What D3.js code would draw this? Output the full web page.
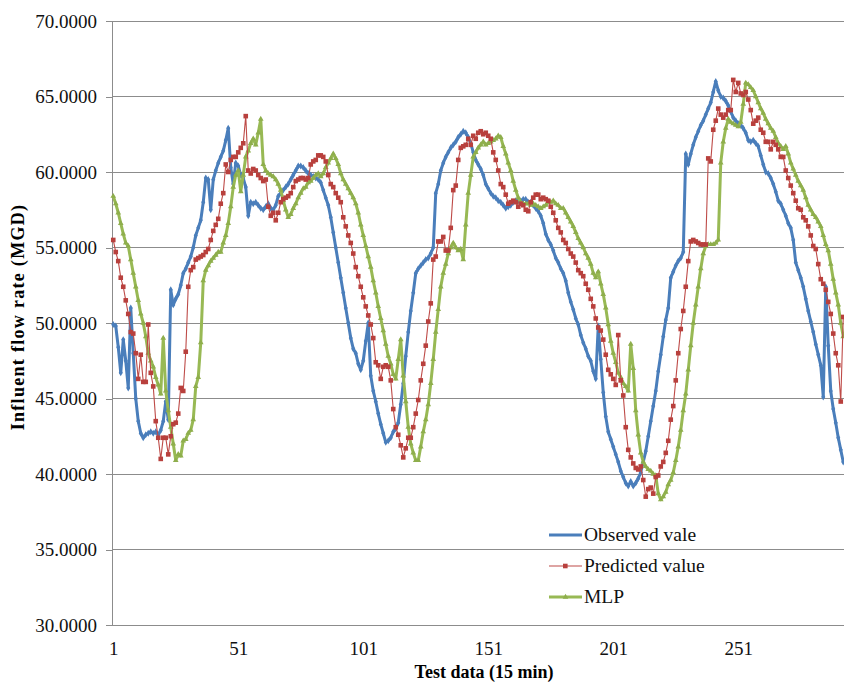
<!DOCTYPE html>
<html>
<head>
<meta charset="utf-8">
<script src="https://cdn.jsdelivr.net/npm/d3@7"></script>
<style>
  html, body { margin: 0; padding: 0; background: #ffffff; }
  svg { display: block; }
</style>
</head>
<body>
<svg id="chart" width="844" height="687"></svg>
<script>
// Influent flow rate (MGD) for each 15-minute test sample
const observed = [
  49.9, 49.8, 48.4, 46.7, 48.9, 47.5, 45.7, 51.0, 48.0, 45.0,
  43.5, 42.7, 42.4, 42.6, 42.7, 42.8, 42.7, 42.8, 42.6, 42.9,
  43.5, 44.8, 43.6, 52.2, 51.2, 51.6, 51.9, 52.5, 53.3, 53.6,
  54.0, 54.4, 55.0, 55.8, 56.3, 56.8, 58.0, 59.6, 59.5, 57.5,
  59.5, 60.1, 60.6, 61.0, 61.4, 62.1, 62.9, 60.3, 59.2, 60.6,
  60.4, 59.8, 59.6, 59.0, 57.1, 58.0, 57.9, 58.0, 57.8, 57.6,
  57.5, 57.7, 57.9, 57.6, 57.5, 57.8, 58.4, 58.6, 58.8, 59.0,
  59.2, 59.5, 59.8, 60.1, 60.4, 60.4, 60.3, 60.1, 59.9, 59.8,
  59.7, 59.6, 59.5, 59.3, 58.8, 58.3, 57.8, 57.0, 56.0, 55.0,
  54.0, 53.0, 52.0, 51.0, 50.0, 49.0, 48.3, 48.0, 47.3, 46.9,
  47.5, 48.8, 50.0, 46.5, 45.5, 44.8, 44.0, 43.3, 42.7, 42.1,
  42.2, 42.4, 42.8, 43.0, 43.4, 44.6, 46.0, 47.8, 49.4, 50.8,
  52.0, 53.3, 53.6, 53.8, 54.0, 54.2, 54.3, 54.6, 55.0, 58.6,
  59.2, 60.1, 60.6, 61.0, 61.3, 61.6, 61.8, 62.0, 62.3, 62.5,
  62.7, 62.6, 62.3, 61.9, 61.3, 60.8, 60.5, 60.2, 59.8, 59.2,
  58.9, 58.6, 58.4, 58.3, 58.1, 58.0, 57.8, 57.6, 57.7, 57.8,
  58.0, 58.1, 58.1, 58.1, 58.2, 58.2, 58.0, 58.0, 57.8, 57.6,
  57.4, 57.1, 56.6, 55.9, 55.5, 55.2, 54.8, 54.3, 54.0, 53.6,
  53.3, 52.8, 52.0, 51.4, 50.9, 50.3, 49.9, 49.2, 48.7, 48.3,
  47.8, 47.5, 46.8, 46.3, 49.8, 47.6, 45.4, 43.8, 42.8, 42.3,
  41.8, 41.3, 40.8, 40.2, 39.8, 39.4, 39.2, 39.5, 39.2, 39.4,
  39.7, 40.1, 40.8, 41.5, 42.5, 43.5, 44.5, 45.5, 46.8, 47.9,
  49.1, 50.2, 51.0, 53.0, 53.4, 53.8, 54.1, 54.3, 54.7, 61.2,
  60.5, 61.2, 61.8, 62.3, 62.7, 63.1, 63.4, 63.8, 64.2, 64.6,
  65.3, 66.0, 65.4, 65.0, 64.9, 64.7, 64.4, 64.0, 63.6, 63.4,
  63.2, 63.1, 62.9, 62.6, 62.1, 62.0, 62.1, 61.9, 61.7, 61.1,
  60.5, 60.0, 59.9, 59.6, 59.2, 58.7, 58.1, 57.9, 57.5, 57.1,
  56.6, 56.3, 55.5, 54.0, 53.5, 53.0, 52.4, 51.6, 50.8, 50.1,
  49.4, 48.6, 47.9, 47.2, 45.1, 52.4, 48.5, 45.5, 44.3, 43.4,
  42.4, 41.6, 40.8
];

const predicted = [
  55.5, 54.7, 54.1, 53.0, 52.4, 51.5, 50.6, 49.4, 49.3, 48.0,
  46.3, 47.9, 46.1, 46.1, 49.9, 46.7, 45.8, 43.5, 42.4, 41.0,
  42.4, 42.4, 41.3, 42.5, 43.3, 43.4, 44.0, 45.7, 45.5, 48.1,
  52.4, 53.5, 53.7, 54.2, 54.3, 54.4, 54.5, 54.7, 54.9, 55.5,
  56.1, 56.5, 56.9, 57.9, 58.6, 60.5, 60.0, 60.8, 61.0, 61.0,
  61.3, 61.6, 61.9, 63.7, 60.1, 59.9, 60.2, 60.1, 59.8, 59.6,
  59.4, 59.5, 57.7, 57.1, 57.3, 56.8, 57.3, 58.0, 58.2, 58.3,
  58.4, 58.6, 59.0, 59.4, 59.5, 59.6, 59.6, 59.5, 59.6, 60.5,
  60.7, 60.8, 61.1, 61.1, 61.0, 60.7, 59.8, 59.2, 59.0, 58.6,
  58.3, 58.0, 57.0, 56.4, 55.8, 55.3, 54.6, 53.7, 53.1, 52.4,
  51.7, 51.1, 50.5, 49.9, 49.0, 47.4, 47.2, 46.3, 47.1, 47.2,
  47.1, 46.2, 44.3, 43.1, 42.6, 41.9, 41.1, 41.7, 42.4, 42.4,
  43.1, 44.0, 44.9, 46.2, 47.3, 48.5, 50.1, 51.3, 54.2, 54.4,
  55.4, 55.4, 55.7, 54.8, 54.8, 56.3, 58.8, 59.1, 60.8, 61.6,
  61.7, 61.8, 62.2, 61.8, 62.4, 62.2, 62.6, 62.7, 62.5, 62.6,
  62.4, 62.2, 61.3, 60.8, 60.1, 59.2, 59.0, 58.5, 57.9, 58.0,
  58.1, 58.0, 57.7, 57.9, 57.8, 57.5, 57.4, 58.0, 58.3, 58.5,
  58.5, 58.2, 58.3, 58.2, 58.1, 57.7, 57.3, 56.8, 56.3, 56.0,
  55.5, 55.3, 54.9, 54.6, 54.4, 54.0, 53.5, 53.3, 53.1, 52.6,
  52.2, 51.6, 51.1, 50.3, 49.7, 49.5, 48.9, 47.9, 46.9, 46.6,
  46.3, 45.9, 49.2, 46.2, 45.2, 43.1, 41.6, 41.1, 40.7, 40.4,
  40.3, 40.5, 39.6, 38.5, 39.0, 39.1, 38.7, 39.8, 39.9, 40.5,
  40.8, 41.4, 42.2, 43.6, 44.5, 46.2, 48.0, 49.6, 50.8, 52.4,
  54.1, 55.4, 55.5, 55.4, 55.3, 55.2, 55.2, 55.2, 60.9, 60.7,
  62.8, 63.4, 64.2, 63.8, 63.6, 63.8, 64.1, 64.1, 66.1, 65.3,
  65.9, 65.2, 65.1, 65.3, 64.8, 64.1, 63.2, 63.4, 63.6, 62.8,
  62.6, 62.0, 62.0, 61.5, 62.0, 61.8, 61.5, 61.0, 61.0, 60.1,
  59.6, 59.1, 58.6, 58.1, 57.6, 57.5, 57.0, 56.8, 56.4, 55.8,
  55.1, 54.9, 53.9, 52.9, 52.6, 52.2, 51.4, 50.6, 49.3, 48.0,
  47.2, 44.8, 50.4
];

const mlp = [
  58.4, 57.9, 57.3, 56.6, 55.9, 55.3, 55.1, 54.2, 53.3, 52.4,
  51.5, 50.6, 50.0, 49.1, 48.0, 47.5, 47.1, 46.4, 45.9, 45.3,
  49.0, 45.5, 44.2, 43.1, 42.0, 40.9, 41.3, 41.2, 42.2, 42.3,
  42.7, 42.9, 43.6, 45.8, 46.4, 48.7, 52.8, 53.5, 53.8, 54.1,
  54.3, 54.5, 54.7, 54.7, 55.3, 55.8, 56.6, 57.7, 59.0, 59.8,
  60.1, 58.7, 59.8, 61.0, 61.4, 61.9, 62.2, 61.8, 62.6, 63.5,
  60.5, 60.1, 59.9, 59.8, 59.7, 59.5, 59.2, 58.8, 58.1, 57.5,
  57.0, 57.2, 57.6, 57.9, 58.3, 58.6, 58.9, 59.0, 59.3, 59.4,
  59.6, 59.8, 59.9, 59.7, 59.9, 60.3, 60.6, 60.9, 61.2, 60.9,
  60.5, 59.9, 59.5, 59.2, 58.9, 58.6, 58.3, 57.9, 57.3, 56.5,
  55.8, 55.1, 54.4, 53.7, 52.8, 52.0, 51.1, 50.3, 49.5, 48.6,
  47.8, 47.3, 46.6, 46.3, 47.6, 48.9, 46.5, 44.8, 43.1, 42.0,
  41.4, 40.9, 40.9, 41.8, 42.8, 43.6, 44.6, 46.0, 47.6, 49.4,
  50.9, 52.4, 53.3, 53.9, 54.6, 55.0, 55.3, 55.0, 54.8, 54.9,
  54.2, 56.5, 58.6, 59.8, 61.0, 61.3, 61.6, 61.8, 62.0, 61.8,
  61.9, 62.0, 62.1, 62.2, 62.4, 62.3, 61.7, 61.2, 60.6, 60.1,
  59.4, 58.8, 58.3, 58.0, 57.9, 57.9, 57.9, 57.8, 57.9, 57.8,
  57.7, 57.6, 57.7, 57.8, 58.0, 58.0, 58.1, 57.9, 57.8, 57.6,
  57.6, 57.3, 57.0, 56.7, 56.4, 56.0, 55.6, 55.3, 55.0, 54.6,
  54.3, 53.9, 53.3, 53.0, 53.4, 52.6, 51.9, 51.0, 49.9, 48.8,
  48.0, 47.4, 46.7, 46.4, 46.0, 45.8, 45.5, 48.6, 47.0, 44.2,
  42.6, 41.4, 40.8, 40.5, 40.3, 40.2, 40.0, 39.9, 38.7, 38.3,
  38.5, 38.8, 39.3, 39.6, 40.1, 40.9, 41.8, 42.9, 44.2, 45.3,
  46.9, 48.5, 50.0, 51.2, 52.4, 53.6, 54.6, 55.1, 55.2, 55.2,
  55.2, 55.3, 55.5, 60.6, 62.0, 62.9, 63.5, 63.3, 63.2, 63.1,
  63.0, 63.3, 64.5, 65.9, 65.8, 65.6, 65.4, 65.0, 64.6, 64.2,
  63.9, 63.5, 63.2, 62.9, 62.7, 62.3, 61.9, 61.7, 61.5, 61.7,
  61.2, 60.6, 60.2, 59.8, 59.4, 59.1, 58.8, 58.3, 57.8, 57.5,
  57.2, 57.0, 56.7, 56.4, 55.8, 55.2, 54.8, 53.9, 52.9, 52.0,
  51.2, 50.0, 49.1
];

// Category labels (sample numbers) and axis ticks
const samples = d3.range(1, observed.length + 1);
const xTickLabels = [1, 51, 101, 151, 201, 251];
const yTicks = [30, 35, 40, 45, 50, 55, 60, 65, 70];

const seriesNames = ["Observed vale", "Predicted value", "MLP"];
const seriesColors = ["#4a7ebb", "#be4b48", "#98b954"];

const serif = '"Liberation Serif", "Times New Roman", Times, serif';
const svg = d3.select("#chart");
const plotLeft = 112, plotRight = 844.5, plotTop = 21, plotBottom = 625;

const x = d3.scalePoint().domain(samples).range([plotLeft, plotRight]).padding(0.5);
const y = d3.scaleLinear().domain([30, 70]).range([plotBottom, plotTop]);

// Horizontal gridlines
svg.append("g")
  .selectAll("line")
  .data(yTicks)
  .join("line")
  .attr("x1", plotLeft).attr("x2", 844)
  .attr("y1", d => y(d)).attr("y2", d => y(d))
  .attr("stroke", "#8c8c8c").attr("stroke-width", 1)
  .attr("shape-rendering", "crispEdges");

// Y axis
const yAxis = svg.append("g")
  .attr("transform", `translate(${plotLeft},0)`)
  .call(d3.axisLeft(y).tickValues(yTicks).tickFormat(d3.format(".4f")).tickSize(6).tickPadding(9));
yAxis.select(".domain").attr("stroke", "#8c8c8c").attr("shape-rendering", "crispEdges");
yAxis.selectAll(".tick line").attr("stroke", "#8c8c8c").attr("shape-rendering", "crispEdges");
yAxis.selectAll(".tick text").attr("font-size", 19).attr("fill", "#111");

// X axis
const xAxis = svg.append("g")
  .attr("transform", `translate(0,${plotBottom})`)
  .call(d3.axisBottom(x).tickValues(xTickLabels).tickSize(0).tickPadding(0));
xAxis.select(".domain").attr("stroke", "#8c8c8c").attr("shape-rendering", "crispEdges");
xAxis.selectAll(".tick text").attr("font-size", 19).attr("fill", "#111")
  .attr("dy", 0).attr("y", 30);

// Axis titles
svg.append("text")
  .attr("transform", "translate(24,317) rotate(-90)")
  .attr("text-anchor", "middle")
  .attr("font-size", 18).attr("font-weight", "bold")
  .style("letter-spacing", "1.3px")
  .text("Influent flow rate (MGD)");

svg.append("text")
  .attr("x", 484).attr("y", 678)
  .attr("text-anchor", "middle")
  .attr("font-size", 18).attr("font-weight", "bold")
  .text("Test data (15 min)");

// Series
const line = d3.line().x((d, i) => x(samples[i])).y(d => y(d));

const gSeries = svg.append("g");

// Observed: thick blue line with small diamonds
gSeries.append("path").datum(observed)
  .attr("d", line).attr("fill", "none")
  .attr("stroke", seriesColors[0]).attr("stroke-width", 3).attr("stroke-linejoin", "round");
gSeries.append("g").selectAll("path").data(observed).join("path")
  .attr("transform", (d, i) => `translate(${x(samples[i])},${y(d)})`)
  .attr("d", d3.symbol(d3.symbolDiamond, 14))
  .attr("fill", seriesColors[0]);

// MLP: thick green line with small triangles
gSeries.append("path").datum(mlp)
  .attr("d", line).attr("fill", "none")
  .attr("stroke", seriesColors[2]).attr("stroke-width", 3).attr("stroke-linejoin", "round");
gSeries.append("g").selectAll("path").data(mlp).join("path")
  .attr("transform", (d, i) => `translate(${x(samples[i])},${y(d)})`)
  .attr("d", d3.symbol(d3.symbolTriangle, 14))
  .attr("fill", "#8eae4c");

// Predicted: thin red line with square markers
gSeries.append("path").datum(predicted)
  .attr("d", line).attr("fill", "none")
  .attr("stroke", seriesColors[1]).attr("stroke-width", 1.1);
gSeries.append("g").selectAll("rect").data(predicted).join("rect")
  .attr("x", (d, i) => x(samples[i]) - 2.3)
  .attr("y", d => y(d) - 2.3)
  .attr("width", 4.6).attr("height", 4.6)
  .attr("fill", "#b8403d");

// Legend
const legendRows = [535, 566, 597];
const legend = svg.append("g");
seriesNames.forEach((name, k) => {
  const ly = legendRows[k];
  const row = legend.append("g");
  row.append("line")
    .attr("x1", 549).attr("x2", 582).attr("y1", ly).attr("y2", ly)
    .attr("stroke", seriesColors[k]).attr("stroke-width", k === 1 ? 1.1 : 3);
  if (k === 1) {
    row.append("rect").attr("x", 563).attr("y", ly - 2.3).attr("width", 4.6).attr("height", 4.6).attr("fill", "#b8403d");
  } else if (k === 2) {
    row.append("path").attr("transform", `translate(565.5,${ly})`)
      .attr("d", d3.symbol(d3.symbolTriangle, 14)).attr("fill", "#8eae4c");
  }
  row.append("text")
    .attr("x", 584).attr("y", ly + 6)
    .attr("font-size", 19.5).attr("fill", "#111")
    .text(name);
});

// Times-style serif face for every label
svg.selectAll("text").style("font-family", serif);
</script>
</body>
</html>
